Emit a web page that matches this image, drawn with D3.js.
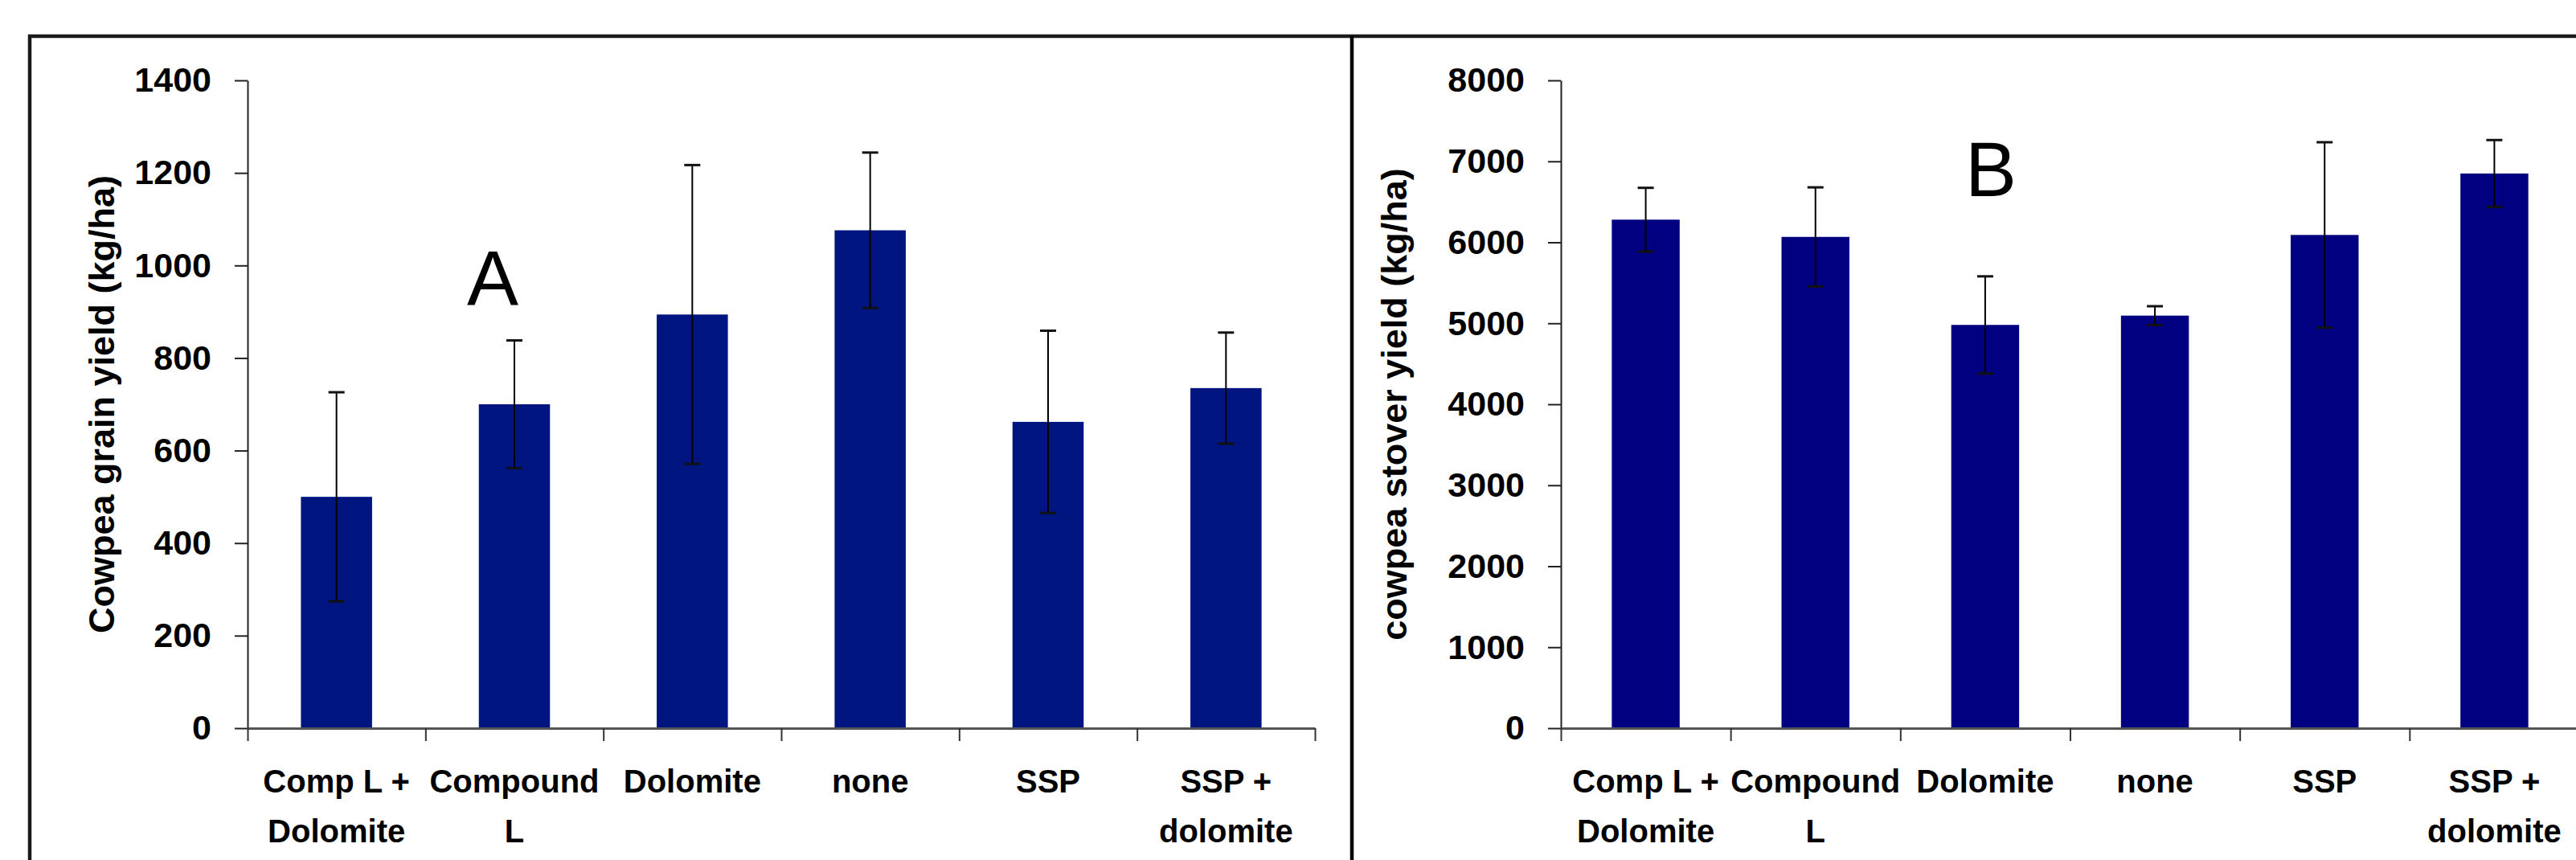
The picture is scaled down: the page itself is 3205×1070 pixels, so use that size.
<!DOCTYPE html>
<html>
<head>
<meta charset="utf-8">
<script src="https://cdn.jsdelivr.net/npm/d3@7"></script>
<style>
  html, body { margin: 0; padding: 0; background: #fff; }
  svg { display: block; }
</style>
</head>
<body>
<div id="app"></div>
<script>
const width = 3205
const height = 1070
const font = "'Liberation Sans', Arial, sans-serif"

// treatments, "\n" marks where the label wraps
const categories = ["Comp L +\nDolomite", "Compound\nL", "Dolomite", "none", "SSP", "SSP +\ndolomite"]

// A: grain yield
const grainYield = [500, 700, 894, 1076, 662, 735]
const grainError = [226, 138, 323, 168, 197, 120]
const grainTicks = [0, 200, 400, 600, 800, 1000, 1200, 1400]

// B: stover yield
const stoverYield = [6280, 6067, 4980, 5095, 6091, 6850]
const stoverError = [393, 612, 600, 116, 1145, 413]
const stoverTicks = [0, 1000, 2000, 3000, 4000, 5000, 6000, 7000, 8000]

const plotTop = 100
const plotBottom = 906

const panels = [
    { values: grainYield, errors: grainError, ticks: grainTicks, title: "Cowpea grain yield (kg/ha)", letter: "A",
      x0: 308, x1: 1636, titleX: 142, letterX: 613, letterY: 379, fill: "#001580" },
    { values: stoverYield, errors: stoverError, ticks: stoverTicks, title: "cowpea stover yield (kg/ha)", letter: "B",
      x0: 1942, x1: 3209, titleX: 1750, letterX: 2477, letterY: 244, fill: "#000080" },
]

const svg = d3.select("#app").append("svg")
    .attr("width", width)
    .attr("height", height)
    .attr("font-family", font)

// panel frames
svg.append("path")
    .attr("d", "M37,1080V45H3215")
    .attr("fill", "none")
    .attr("stroke", "#1a1a1a")
    .attr("stroke-width", 4.5)
svg.append("line")
    .attr("x1", 1682).attr("x2", 1682)
    .attr("y1", 45).attr("y2", 1080)
    .attr("stroke", "#000")
    .attr("stroke-width", 4.5)

panels.forEach(p => {
    const y = d3.scaleLinear().domain([0, d3.max(p.ticks)]).range([plotBottom, plotTop])
    const x = d3.scaleBand().domain(categories).range([p.x0, p.x1])
        .paddingInner(0.6).paddingOuter(0.3)
    const edges = d3.scaleLinear().domain([0, categories.length]).range([p.x0, p.x1])
    const cx = i => x(categories[i]) + x.bandwidth() / 2

    const g = svg.append("g")

    // bars
    g.selectAll(".bar").data(p.values).join("rect")
        .attr("class", "bar")
        .attr("x", (d, i) => x(categories[i]))
        .attr("y", d => y(d))
        .attr("width", x.bandwidth())
        .attr("height", d => y(0) - y(d))
        .attr("fill", p.fill)

    // error bars
    g.selectAll(".err").data(p.values).join("line")
        .attr("class", "err")
        .attr("x1", (d, i) => cx(i)).attr("x2", (d, i) => cx(i))
        .attr("y1", (d, i) => y(d + p.errors[i]))
        .attr("y2", (d, i) => y(d - p.errors[i]))
        .attr("stroke", "#000")
        .attr("stroke-width", 2)
    ;[1, -1].forEach(s => {
        g.selectAll(null).data(p.values).join("line")
            .attr("x1", (d, i) => cx(i) - 10).attr("x2", (d, i) => cx(i) + 10)
            .attr("y1", (d, i) => y(d + s * p.errors[i]))
            .attr("y2", (d, i) => y(d + s * p.errors[i]))
            .attr("stroke", "#111")
            .attr("stroke-width", 3)
    })

    // y axis
    g.append("g")
        .attr("transform", `translate(${p.x0},0)`)
        .call(d3.axisLeft(y).tickValues(p.ticks).tickFormat(d3.format("d"))
            .tickSize(16).tickSizeOuter(0).tickPadding(29))
        .attr("font-family", font)
        .attr("font-size", 43)
        .attr("font-weight", "bold")
        .call(g => g.select(".domain").attr("stroke", "#222").attr("stroke-width", 2))
        .call(g => g.selectAll(".tick line").attr("stroke", "#222").attr("stroke-width", 2))
        .call(g => g.selectAll(".tick text").attr("fill", "#000"))

    // x axis line with ticks between categories
    g.append("g")
        .attr("transform", `translate(0,${plotBottom})`)
        .call(d3.axisBottom(edges).ticks(categories.length).tickSize(16).tickSizeOuter(0).tickFormat(""))
        .call(g => g.select(".domain").attr("stroke", "#555").attr("stroke-width", 3))
        .call(g => g.selectAll(".tick line").attr("stroke", "#333").attr("stroke-width", 2))

    // category labels
    g.append("g")
        .attr("transform", `translate(0,${plotBottom})`)
        .call(d3.axisBottom(x).tickSize(0))
        .attr("font-family", font)
        .attr("font-size", 40)
        .attr("font-weight", "bold")
        .call(g => g.select(".domain").remove())
        .call(g => g.selectAll(".tick text")
            .attr("dy", null).attr("y", null).attr("fill", "#000").text(null)
            .selectAll("tspan").data(d => d.split("\n")).join("tspan")
            .attr("x", 0)
            .attr("y", (d, i) => 80 + i * 62)
            .text(d => d))

    // axis title
    svg.append("text")
        .attr("transform", `translate(${p.titleX},${(plotTop + plotBottom) / 2}) rotate(-90)`)
        .attr("text-anchor", "middle")
        .attr("font-size", 45)
        .attr("font-weight", "bold")
        .attr("fill", "#000")
        .text(p.title)

    // panel letter
    svg.append("text")
        .attr("x", p.letterX)
        .attr("y", p.letterY)
        .attr("text-anchor", "middle")
        .attr("font-size", 96)
        .attr("fill", "#000")
        .text(p.letter)
})
</script>
</body>
</html>
